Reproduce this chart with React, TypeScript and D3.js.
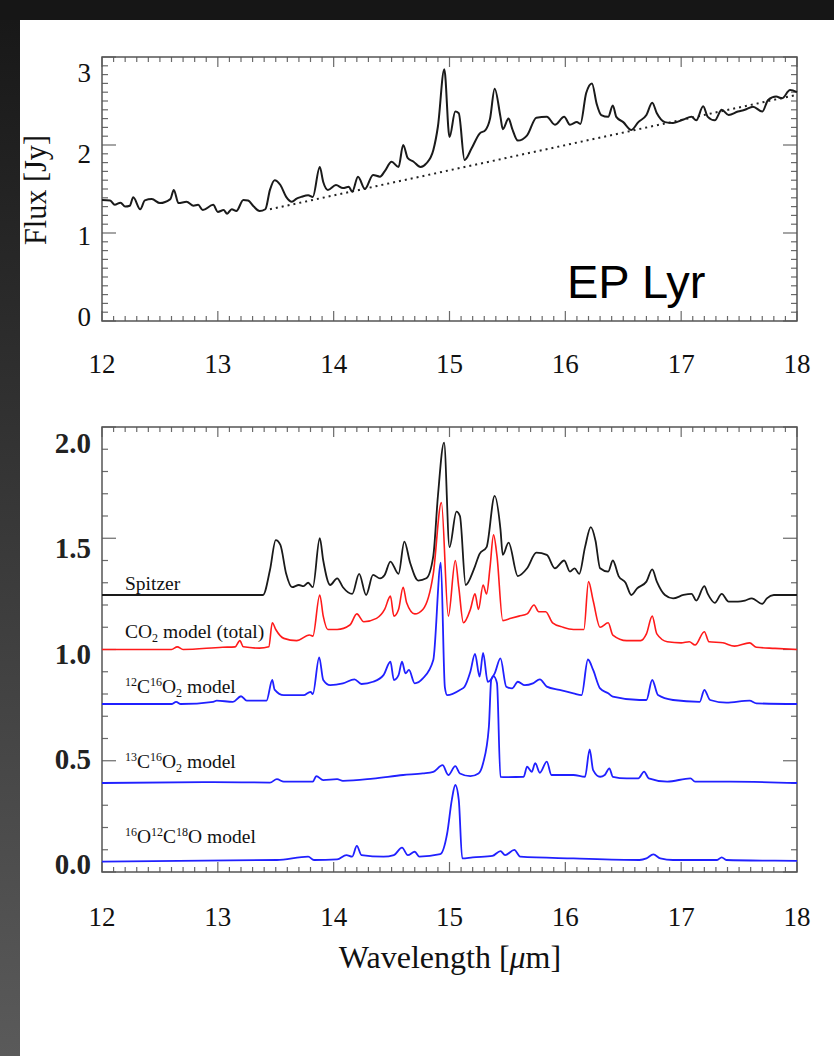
import React from 'react';
import * as d3 from 'd3';

// ---------- data ----------
const xMajorTicks = [12, 13, 14, 15, 16, 17, 18];
const topYMajorTicks = [0, 1, 2, 3];
const botYMajorTicks = [0, 0.5, 1.0, 1.5, 2.0];
const botYTickLabels = ['0.0', '0.5', '1.0', '1.5', '2.0'];

// Observed flux of EP Lyr [wavelength um, flux Jy]
const fluxSpectrum: [number, number][] = [
  [12.0, 1.375], [12.07, 1.37], [12.11, 1.32], [12.16, 1.345], [12.2, 1.3], [12.24, 1.31],
  [12.27, 1.405], [12.33, 1.27], [12.37, 1.37], [12.43, 1.385], [12.5, 1.34], [12.59, 1.385],
  [12.62, 1.49], [12.66, 1.34], [12.73, 1.355], [12.79, 1.31], [12.83, 1.32], [12.87, 1.26],
  [12.96, 1.32], [13.0, 1.24], [13.05, 1.26], [13.08, 1.22], [13.12, 1.27], [13.16, 1.25],
  [13.22, 1.375], [13.26, 1.37], [13.31, 1.3], [13.36, 1.25], [13.41, 1.27], [13.45, 1.49],
  [13.49, 1.6], [13.54, 1.545], [13.59, 1.41], [13.64, 1.355], [13.68, 1.39], [13.72, 1.41],
  [13.78, 1.43], [13.82, 1.41], [13.88, 1.75], [13.91, 1.58], [13.95, 1.49], [14.02, 1.545],
  [14.08, 1.51], [14.13, 1.525], [14.16, 1.47], [14.21, 1.64], [14.27, 1.5], [14.34, 1.66],
  [14.4, 1.64], [14.44, 1.7], [14.5, 1.81], [14.56, 1.75], [14.6, 2.0], [14.64, 1.85],
  [14.69, 1.81], [14.75, 1.75], [14.8, 1.79], [14.86, 1.94], [14.9, 2.21], [14.955, 2.86],
  [15.0, 2.09], [15.05, 2.38], [15.08, 2.36], [15.13, 1.83], [15.19, 1.96], [15.26, 2.13],
  [15.31, 2.17], [15.35, 2.3], [15.39, 2.64], [15.44, 2.32], [15.46, 2.18], [15.51, 2.3],
  [15.54, 2.19], [15.59, 2.05], [15.67, 2.11], [15.75, 2.31], [15.84, 2.32], [15.91, 2.23],
  [15.99, 2.32], [16.04, 2.23], [16.1, 2.26], [16.13, 2.24], [16.18, 2.59], [16.23, 2.7],
  [16.27, 2.47], [16.31, 2.34], [16.37, 2.32], [16.41, 2.45], [16.44, 2.32], [16.5, 2.26],
  [16.57, 2.17], [16.63, 2.26], [16.7, 2.34], [16.75, 2.48], [16.79, 2.36], [16.86, 2.26],
  [16.93, 2.25], [17.02, 2.29], [17.09, 2.32], [17.13, 2.28], [17.19, 2.44], [17.23, 2.32],
  [17.29, 2.28], [17.35, 2.4], [17.41, 2.34], [17.49, 2.38], [17.55, 2.4], [17.62, 2.435],
  [17.7, 2.38], [17.75, 2.51], [17.82, 2.55], [17.87, 2.53], [17.94, 2.625], [18.0, 2.6],
];

// Adopted continuum (dotted)
const continuum: [number, number][] = [[13.45, 1.27], [18.0, 2.57]];

// Continuum-subtracted Spitzer spectrum (offset)
const spitzer: [number, number][] = [
  [12.0, 1.245], [13.39, 1.245], [13.45, 1.357], [13.5, 1.492], [13.54, 1.47], [13.59, 1.34],
  [13.64, 1.28], [13.7, 1.29], [13.74, 1.285], [13.78, 1.3], [13.82, 1.28], [13.88, 1.5],
  [13.91, 1.4], [13.97, 1.29], [14.03, 1.32], [14.08, 1.28], [14.16, 1.25], [14.22, 1.34],
  [14.28, 1.245], [14.34, 1.335], [14.4, 1.32], [14.44, 1.335], [14.49, 1.395], [14.56, 1.34],
  [14.61, 1.485], [14.66, 1.39], [14.73, 1.31], [14.8, 1.32], [14.86, 1.42], [14.9, 1.69],
  [14.953, 1.93], [15.0, 1.46], [15.06, 1.62], [15.09, 1.6], [15.14, 1.29], [15.21, 1.36],
  [15.26, 1.43], [15.32, 1.46], [15.39, 1.69], [15.44, 1.54], [15.46, 1.425], [15.51, 1.48],
  [15.59, 1.33], [15.67, 1.365], [15.75, 1.435], [15.84, 1.425], [15.91, 1.365], [15.99, 1.4],
  [16.04, 1.35], [16.08, 1.365], [16.12, 1.34], [16.17, 1.46], [16.22, 1.55], [16.26, 1.49],
  [16.3, 1.365], [16.37, 1.35], [16.41, 1.4], [16.46, 1.33], [16.52, 1.3], [16.57, 1.245],
  [16.62, 1.275], [16.7, 1.305], [16.75, 1.36], [16.79, 1.305], [16.86, 1.245], [16.93, 1.23],
  [17.02, 1.245], [17.09, 1.25], [17.13, 1.22], [17.2, 1.285], [17.23, 1.25], [17.29, 1.21],
  [17.35, 1.25], [17.41, 1.215], [17.49, 1.215], [17.55, 1.22], [17.61, 1.23], [17.7, 1.205],
  [17.74, 1.23], [17.8, 1.245], [18.0, 1.245],
];

const co2Total: [number, number][] = [
  [12.0, 1.0], [12.6, 1.0], [12.65, 1.012], [12.7, 1.0], [13.04, 1.01], [13.15, 1.012],
  [13.19, 1.04], [13.22, 1.012], [13.36, 1.006], [13.44, 1.012], [13.47, 1.12], [13.5, 1.09],
  [13.57, 1.05], [13.68, 1.04], [13.79, 1.065], [13.82, 1.06], [13.88, 1.245], [13.91, 1.15],
  [13.95, 1.09], [14.03, 1.09], [14.14, 1.11], [14.2, 1.16], [14.26, 1.125], [14.37, 1.14],
  [14.44, 1.18], [14.49, 1.24], [14.52, 1.15], [14.56, 1.18], [14.6, 1.28], [14.63, 1.21],
  [14.7, 1.16], [14.77, 1.18], [14.86, 1.34], [14.93, 1.66], [14.99, 1.15], [15.05, 1.4],
  [15.08, 1.28], [15.12, 1.12], [15.18, 1.18], [15.22, 1.25], [15.25, 1.18], [15.29, 1.29],
  [15.32, 1.25], [15.35, 1.37], [15.38, 1.515], [15.41, 1.42], [15.46, 1.13], [15.53, 1.14],
  [15.6, 1.15], [15.67, 1.16], [15.73, 1.2], [15.77, 1.17], [15.83, 1.17], [15.89, 1.12],
  [15.98, 1.1], [16.07, 1.09], [16.16, 1.09], [16.2, 1.305], [16.24, 1.22], [16.3, 1.1],
  [16.37, 1.12], [16.41, 1.065], [16.53, 1.04], [16.65, 1.04], [16.7, 1.07], [16.75, 1.15],
  [16.79, 1.07], [16.88, 1.035], [17.0, 1.03], [17.07, 1.035], [17.12, 1.02], [17.2, 1.08],
  [17.24, 1.035], [17.36, 1.03], [17.46, 1.015], [17.59, 1.03], [17.65, 1.01], [17.81, 1.005],
  [18.0, 1.0],
];

const c12o16Model: [number, number][] = [
  [12.0, 0.755], [12.6, 0.755], [12.64, 0.765], [12.68, 0.755], [12.96, 0.765], [12.99, 0.77],
  [13.13, 0.765], [13.2, 0.79], [13.25, 0.77], [13.42, 0.77], [13.47, 0.863], [13.49, 0.82],
  [13.57, 0.795], [13.74, 0.795], [13.8, 0.81], [13.82, 0.8], [13.875, 0.965], [13.91, 0.863],
  [13.97, 0.84], [14.08, 0.848], [14.18, 0.866], [14.24, 0.845], [14.34, 0.855], [14.43, 0.885],
  [14.49, 0.945], [14.52, 0.863], [14.56, 0.885], [14.59, 0.945], [14.62, 0.893], [14.65, 0.908],
  [14.7, 0.848], [14.77, 0.87], [14.86, 0.953], [14.925, 1.39], [14.96, 0.83], [14.98, 0.795],
  [15.09, 0.818], [15.13, 0.833], [15.18, 0.9], [15.22, 0.98], [15.26, 0.878], [15.29, 0.985],
  [15.33, 0.855], [15.39, 0.893], [15.44, 0.96], [15.49, 0.833], [15.54, 0.825], [15.59, 0.855],
  [15.65, 0.84], [15.72, 0.848], [15.78, 0.866], [15.84, 0.833], [15.95, 0.818], [16.07, 0.803],
  [16.14, 0.795], [16.195, 0.955], [16.24, 0.908], [16.3, 0.825], [16.37, 0.803], [16.41, 0.788],
  [16.64, 0.773], [16.7, 0.773], [16.75, 0.863], [16.8, 0.795], [16.93, 0.773], [17.16, 0.765],
  [17.2, 0.818], [17.25, 0.773], [17.39, 0.761], [17.59, 0.77], [17.65, 0.758], [18.0, 0.755],
];

const c13o16Model: [number, number][] = [
  [12.0, 0.4], [12.96, 0.404], [13.45, 0.402], [13.51, 0.417], [13.57, 0.406], [13.82, 0.406],
  [13.85, 0.431], [13.91, 0.413], [14.03, 0.417], [14.08, 0.41], [14.34, 0.42], [14.6, 0.436],
  [14.77, 0.443], [14.86, 0.45], [14.94, 0.48], [14.99, 0.436], [15.05, 0.476], [15.09, 0.443],
  [15.18, 0.431], [15.25, 0.443], [15.29, 0.489], [15.34, 0.653], [15.36, 0.863], [15.38, 0.88],
  [15.41, 0.848], [15.44, 0.428], [15.49, 0.426], [15.64, 0.428], [15.67, 0.473], [15.71, 0.45],
  [15.74, 0.489], [15.78, 0.446], [15.84, 0.496], [15.88, 0.436], [16.07, 0.436], [16.17, 0.428],
  [16.21, 0.551], [16.24, 0.458], [16.3, 0.428], [16.34, 0.436], [16.38, 0.466], [16.41, 0.428],
  [16.53, 0.421], [16.63, 0.421], [16.68, 0.451], [16.72, 0.421], [16.88, 0.406], [17.08, 0.421],
  [17.12, 0.406], [17.42, 0.406], [18.0, 0.4],
];

const o16c12o18Model: [number, number][] = [
  [12.0, 0.047], [13.51, 0.054], [13.78, 0.069], [13.83, 0.054], [14.03, 0.057], [14.11, 0.076],
  [14.16, 0.069], [14.2, 0.117], [14.24, 0.076], [14.43, 0.069], [14.52, 0.076], [14.59, 0.11],
  [14.64, 0.076], [14.7, 0.091], [14.74, 0.069], [14.92, 0.08], [14.98, 0.174], [15.02, 0.324],
  [15.05, 0.391], [15.08, 0.324], [15.11, 0.061], [15.2, 0.066], [15.37, 0.072], [15.44, 0.094],
  [15.48, 0.076], [15.56, 0.099], [15.61, 0.069], [16.07, 0.061], [16.64, 0.054], [16.7, 0.061],
  [16.76, 0.079], [16.82, 0.061], [16.93, 0.054], [17.31, 0.054], [17.35, 0.066], [17.39, 0.054],
  [17.81, 0.051], [18.0, 0.05],
];

// ---------- layout ----------
const TOP = { x0: 102, x1: 797, y0: 57, y1: 321 };
const BOT = { x0: 102, x1: 797, y0: 427, y1: 872 };
const SERIF = "'Liberation Serif', 'Times New Roman', serif";
const SANS = "'Liberation Sans', Arial, sans-serif";
const TICK_COLOR = '#6a6a6a';
const FRAME_COLOR = '#555';
const BLUE = '#2020ff';
const RED = '#ff1a1a';

type Box = { x0: number; x1: number; y0: number; y1: number };

function Ticks({ box, x, y, yMajor, yMinorStep }: {
  box: Box; x: d3.ScaleLinear<number, number>; y: d3.ScaleLinear<number, number>;
  yMajor: number[]; yMinorStep: number;
}) {
  const xMinor = d3.range(12, 18.0001, 0.1).map((v) => +v.toFixed(2));
  const [yLo, yHi] = y.domain();
  const yMinor = d3.range(yLo, yHi + 1e-6, yMinorStep).map((v) => +v.toFixed(2));
  const isMajorX = (v: number) => xMajorTicks.some((m) => Math.abs(m - v) < 1e-6);
  const isMajorY = (v: number) => yMajor.some((m) => Math.abs(m - v) < 1e-6);
  const lines: JSX.Element[] = [];
  xMinor.forEach((v, i) => {
    const len = isMajorX(v) ? 10 : 5;
    const px = x(v);
    lines.push(<line key={'xb' + i} x1={px} x2={px} y1={box.y1} y2={box.y1 - len} />);
    lines.push(<line key={'xt' + i} x1={px} x2={px} y1={box.y0} y2={box.y0 + len} />);
  });
  yMinor.forEach((v, i) => {
    const len = isMajorY(v) ? 14 : 6;
    const py = y(v);
    lines.push(<line key={'yl' + i} x1={box.x0} x2={box.x0 + len} y1={py} y2={py} />);
    lines.push(<line key={'yr' + i} x1={box.x1} x2={box.x1 - len} y1={py} y2={py} />);
  });
  return (
    <g stroke={TICK_COLOR} strokeWidth={1.2}>
      {lines}
      <rect x={box.x0} y={box.y0} width={box.x1 - box.x0} height={box.y1 - box.y0}
        fill="none" stroke={FRAME_COLOR} strokeWidth={1.5} />
    </g>
  );
}

export default function App() {
  const xTop = d3.scaleLinear().domain([12, 18]).range([TOP.x0, TOP.x1]);
  const yTop = d3.scaleLinear().domain([0, 3]).range([TOP.y1, TOP.y0]);
  const yTopLabel = d3.scaleLinear().domain([0, 3]).range([317, 73]);
  const xBot = d3.scaleLinear().domain([12, 18]).range([BOT.x0, BOT.x1]);
  const yBot = d3.scaleLinear().domain([0, 2]).range([BOT.y1, BOT.y0]);
  const yBotLabel = d3.scaleLinear().domain([0, 2]).range([864, 443]);

  const lineTop = d3.line<[number, number]>()
    .x((d) => xTop(d[0])).y((d) => yTop(d[1])).curve(d3.curveMonotoneX);
  const lineTopStraight = d3.line<[number, number]>()
    .x((d) => xTop(d[0])).y((d) => yTop(d[1]));
  const lineBot = d3.line<[number, number]>()
    .x((d) => xBot(d[0])).y((d) => yBot(d[1])).curve(d3.curveMonotoneX);

  const small = 12;
  const lab = 19.5;

  return (
    <svg width={834} height={1056} style={{ position: 'absolute', left: 0, top: 0 }}
      xmlns="http://www.w3.org/2000/svg">
      <defs>
        <linearGradient id="leftStrip" x1="0" y1="0" x2="0" y2="1">
          <stop offset="0" stopColor="#181818" />
          <stop offset="1" stopColor="#5a5a5a" />
        </linearGradient>
      </defs>
      <rect x={0} y={0} width={834} height={1056} fill="#161616" />
      <rect x={0} y={20} width={20} height={1036} fill="url(#leftStrip)" />
      <rect x={20} y={20} width={814} height={1036} fill="#ffffff" />

      {/* ---------- top panel ---------- */}
      <Ticks box={TOP} x={xTop} y={yTop} yMajor={topYMajorTicks} yMinorStep={0.1} />
      <path d={lineTopStraight(continuum) || ''} fill="none" stroke="#222" strokeWidth={2}
        strokeDasharray="2,4" />
      <path d={lineTop(fluxSpectrum) || ''} fill="none" stroke="#1a1a1a" strokeWidth={2}
        strokeLinejoin="round" />
      <g fontFamily={SERIF} fontSize={27} fill="#111">
        {topYMajorTicks.map((v) => (
          <text key={'tyl' + v} x={91} y={yTopLabel(v)} textAnchor="end" dominantBaseline="central">{v}</text>
        ))}
        {xMajorTicks.map((v) => (
          <text key={'txl' + v} x={xTop(v)} y={373} textAnchor="middle">{v}</text>
        ))}
      </g>
      <text transform="translate(46,190) rotate(-90)" fontFamily={SERIF} fontSize={32}
        textAnchor="middle" textLength={110} lengthAdjust="spacingAndGlyphs" fill="#111">Flux [Jy]</text>
      <text x={567} y={298} fontFamily={SANS} fontSize={47} fill="#000">EP Lyr</text>

      {/* ---------- bottom panel ---------- */}
      <Ticks box={BOT} x={xBot} y={yBot} yMajor={botYMajorTicks} yMinorStep={0.1} />
      <path d={lineBot(o16c12o18Model) || ''} fill="none" stroke={BLUE} strokeWidth={1.8} />
      <path d={lineBot(c13o16Model) || ''} fill="none" stroke={BLUE} strokeWidth={1.8} />
      <path d={lineBot(c12o16Model) || ''} fill="none" stroke={BLUE} strokeWidth={1.8} />
      <path d={lineBot(co2Total) || ''} fill="none" stroke={RED} strokeWidth={1.6} />
      <path d={lineBot(spitzer) || ''} fill="none" stroke="#1a1a1a" strokeWidth={1.8} />

      <g fontFamily={SERIF} fontSize={29} fontWeight="bold" fill="#222">
        {botYMajorTicks.map((v, i) => (
          <text key={'byl' + v} x={91} y={yBotLabel(v)} textAnchor="end" dominantBaseline="central">{botYTickLabels[i]}</text>
        ))}
      </g>
      <g fontFamily={SERIF} fontSize={27} fill="#111">
        {xMajorTicks.map((v) => (
          <text key={'bxl' + v} x={xBot(v)} y={926} textAnchor="middle">{v}</text>
        ))}
      </g>
      <text x={450} y={968} fontFamily={SERIF} fontSize={32} textAnchor="middle" fill="#111">
        Wavelength [<tspan fontStyle="italic">μ</tspan>m]
      </text>

      <g fontFamily={SERIF} fontSize={lab} fill="#111" style={{ whiteSpace: 'pre' }}>
        <text x={125} y={590}>Spitzer</text>
        <text x={125} y={638}>
          CO<tspan fontSize={small} dy={4}>2</tspan><tspan dy={-4}>{' model (total)'}</tspan>
        </text>
        <text x={125} y={693}>
          <tspan fontSize={small} dy={-7}>12</tspan><tspan dy={7}>C</tspan>
          <tspan fontSize={small} dy={-7}>16</tspan><tspan dy={7}>O</tspan>
          <tspan fontSize={small} dy={4}>2</tspan><tspan dy={-4}>{' model'}</tspan>
        </text>
        <text x={125} y={768}>
          <tspan fontSize={small} dy={-7}>13</tspan><tspan dy={7}>C</tspan>
          <tspan fontSize={small} dy={-7}>16</tspan><tspan dy={7}>O</tspan>
          <tspan fontSize={small} dy={4}>2</tspan><tspan dy={-4}>{' model'}</tspan>
        </text>
        <text x={125} y={843}>
          <tspan fontSize={small} dy={-7}>16</tspan><tspan dy={7}>O</tspan>
          <tspan fontSize={small} dy={-7}>12</tspan><tspan dy={7}>C</tspan>
          <tspan fontSize={small} dy={-7}>18</tspan><tspan dy={7}>O</tspan>
          <tspan>{' model'}</tspan>
        </text>
      </g>
    </svg>
  );
}
